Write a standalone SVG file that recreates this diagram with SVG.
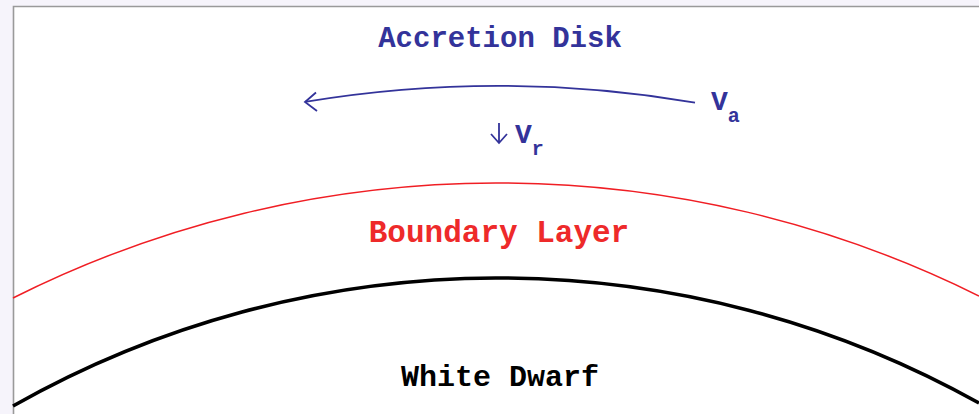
<svg xmlns="http://www.w3.org/2000/svg" width="979" height="414" viewBox="0 0 979 414">
  <style>
    .lbl { font-family: "Liberation Mono", "DejaVu Sans Mono", monospace; font-weight: bold; }
    .blue { fill: #33339a; }
    .blueLine { stroke: #33339a; stroke-width: 1.8; fill: none; }
  </style>
  <rect x="0" y="0" width="979" height="414" fill="#ffffff"/>
  <rect x="0" y="0" width="13" height="414" fill="#f6f4fb"/>
  <rect x="0" y="0" width="979" height="6" fill="#f6f4fb"/>
  <g id="frame" stroke="#9a9a9a" stroke-width="1.6" fill="none">
    <path d="M13.5 414 V6.5 H979"/>
  </g>
  <g id="white-dwarf">
    <path d="M13 406 A985 985 0 0 1 979 403" stroke="#000000" stroke-width="3.6" fill="none"/>
    <text class="lbl" x="500" y="386" font-size="30" text-anchor="middle" fill="#000000">White Dwarf</text>
  </g>
  <g id="boundary-layer">
    <path d="M13 298 A1080 1080 0 0 1 979 296" stroke="#f01e24" stroke-width="1.5" fill="none"/>
    <text class="lbl" x="499" y="242" font-size="31" text-anchor="middle" fill="#ee2a2a">Boundary Layer</text>
  </g>
  <g id="accretion-disk">
    <text class="lbl blue" x="500" y="47" font-size="29" text-anchor="middle">Accretion Disk</text>
  </g>
  <g id="connectors">
    <path id="va-arrow" class="blueLine" d="M695 102.6 A1177 1177 0 0 0 305 101.9"/>
    <path class="blueLine" d="M316 92.5 L305 102 L317 111"/>
    <path id="vr-arrow" class="blueLine" d="M499 123 V143 M491 134 L499 143 L507 134"/>
  </g>
  <g id="va-label">
    <text class="lbl blue" x="711" y="110" font-size="28">V<tspan font-size="20" dy="12">a</tspan></text>
  </g>
  <g id="vr-label">
    <text class="lbl blue" x="515" y="143" font-size="28">V<tspan font-size="20" dy="12">r</tspan></text>
  </g>
</svg>
